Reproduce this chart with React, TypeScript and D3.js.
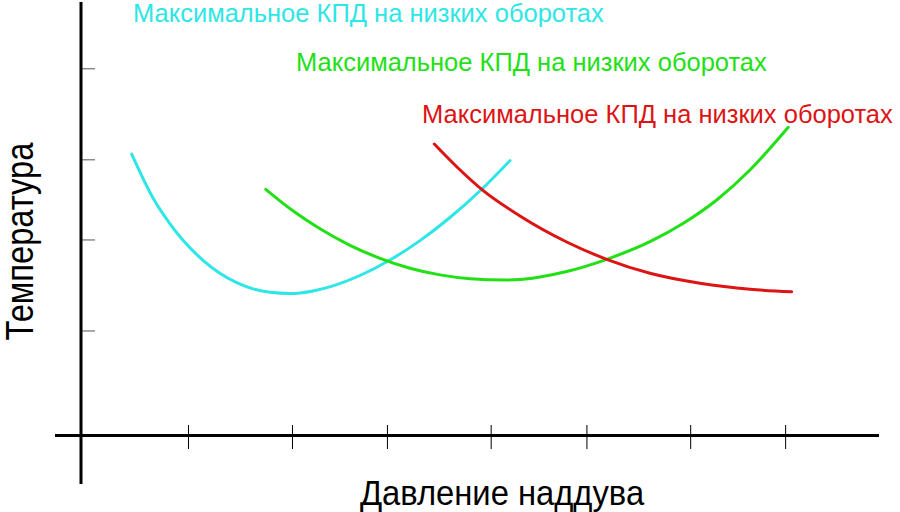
import React from "react";
import * as d3 from "d3";

const W = 900;
const H = 512;

const xTickValues = [13.47, 26.5, 38.4, 51.4, 63.4, 76.4, 88.3];
const yTickValues = [84.2, 63.3, 44.9, 24.0];

const seriesNames = ["cyan", "green", "red"];
const labels = [
  "Максимальное КПД на низких оборотах",
  "Максимальное КПД на низких оборотах",
  "Максимальное КПД на низких оборотах",
];

const cyanX = [6.35, 9.06, 11.15, 15.33, 19.51, 23.68, 26.19, 29.07, 31.58, 34.96, 38.72, 42.48, 46.24, 50.25, 53.76];
const cyanY = [64.64, 54.44, 48.61, 40.16, 35.09, 32.88, 32.61, 33.2, 34.37, 36.74, 40.3, 44.75, 50.06, 56.6, 63.1];

const greenX = [23.15, 26.6, 29.95, 33.71, 37.47, 41.23, 44.99, 48.75, 53.13, 55.01, 57.52, 60.86, 65.88, 71.3, 75.48, 79.66, 83.83, 88.63];
const greenY = [56.53, 51.53, 47.46, 43.67, 40.69, 38.42, 36.88, 36.0, 35.71, 35.8, 36.4, 37.66, 40.46, 44.5, 48.73, 54.08, 60.96, 70.77];

const redX = [44.27, 47.08, 50.21, 55.01, 60.86, 65.88, 71.3, 77.57, 83.83, 89.06];
const redY = [66.93, 61.72, 56.53, 50.4, 44.43, 40.46, 37.24, 34.95, 33.57, 33.02];

const xLabel = "Давление наддува";
const yLabel = "Температура";

const colors = ["#2ee6e6", "#22e016", "#dc1414"];

export default function App() {
  const x = d3.scaleLinear().domain([0, 100]).range([81, 879]);
  const y = d3.scaleLinear().domain([0, 100]).range([435.5, 0]);

  const line = d3
    .line<[number, number]>()
    .x((d) => x(d[0]))
    .y((d) => y(d[1]))
    .curve(d3.curveMonotoneX);

  const series = [
    cyanX.map((v, i) => [v, cyanY[i]] as [number, number]),
    greenX.map((v, i) => [v, greenY[i]] as [number, number]),
    redX.map((v, i) => [v, redY[i]] as [number, number]),
  ];

  const labelPos = [
    { lx: 133, ly: 21.5 },
    { lx: 296, ly: 70.5 },
    { lx: 422, ly: 122.5 },
  ];

  const font = "'Liberation Sans', Arial, sans-serif";

  return (
    <svg
      width={W}
      height={H}
      style={{ position: "absolute", left: 0, top: 0, background: "#fff" }}
      fontFamily={font}
    >
      {series.map((s, i) => (
        <path
          key={seriesNames[i]}
          d={line(s) || ""}
          fill="none"
          stroke={colors[i]}
          strokeWidth={3}
          strokeLinecap="round"
        />
      ))}

      {yTickValues.map((v) => (
        <line key={"yt" + v} x1={82} x2={95} y1={y(v)} y2={y(v)} stroke="#555" strokeWidth={1} />
      ))}

      {xTickValues.map((v) => (
        <line key={"xt" + v} x1={x(v)} x2={x(v)} y1={425} y2={449} stroke="#000" strokeWidth={1} />
      ))}

      <line x1={55} x2={879} y1={y(0)} y2={y(0)} stroke="#000" strokeWidth={3} />
      <line x1={x(0)} x2={x(0)} y1={2} y2={484} stroke="#000" strokeWidth={3} />

      {labels.map((t, i) => (
        <text
          key={"lab" + i}
          x={labelPos[i].lx}
          y={labelPos[i].ly}
          fill={colors[i]}
          fontSize={25.5}
        >
          {t}
        </text>
      ))}

      <text
        transform="translate(502,505) scale(0.91,1)"
        textAnchor="middle"
        fontSize={36}
        fill="#000"
      >
        {xLabel}
      </text>
      <text
        transform="translate(33,241.5) rotate(-90) scale(0.86,1)"
        textAnchor="middle"
        fontSize={38}
        fill="#000"
      >
        {yLabel}
      </text>
    </svg>
  );
}
